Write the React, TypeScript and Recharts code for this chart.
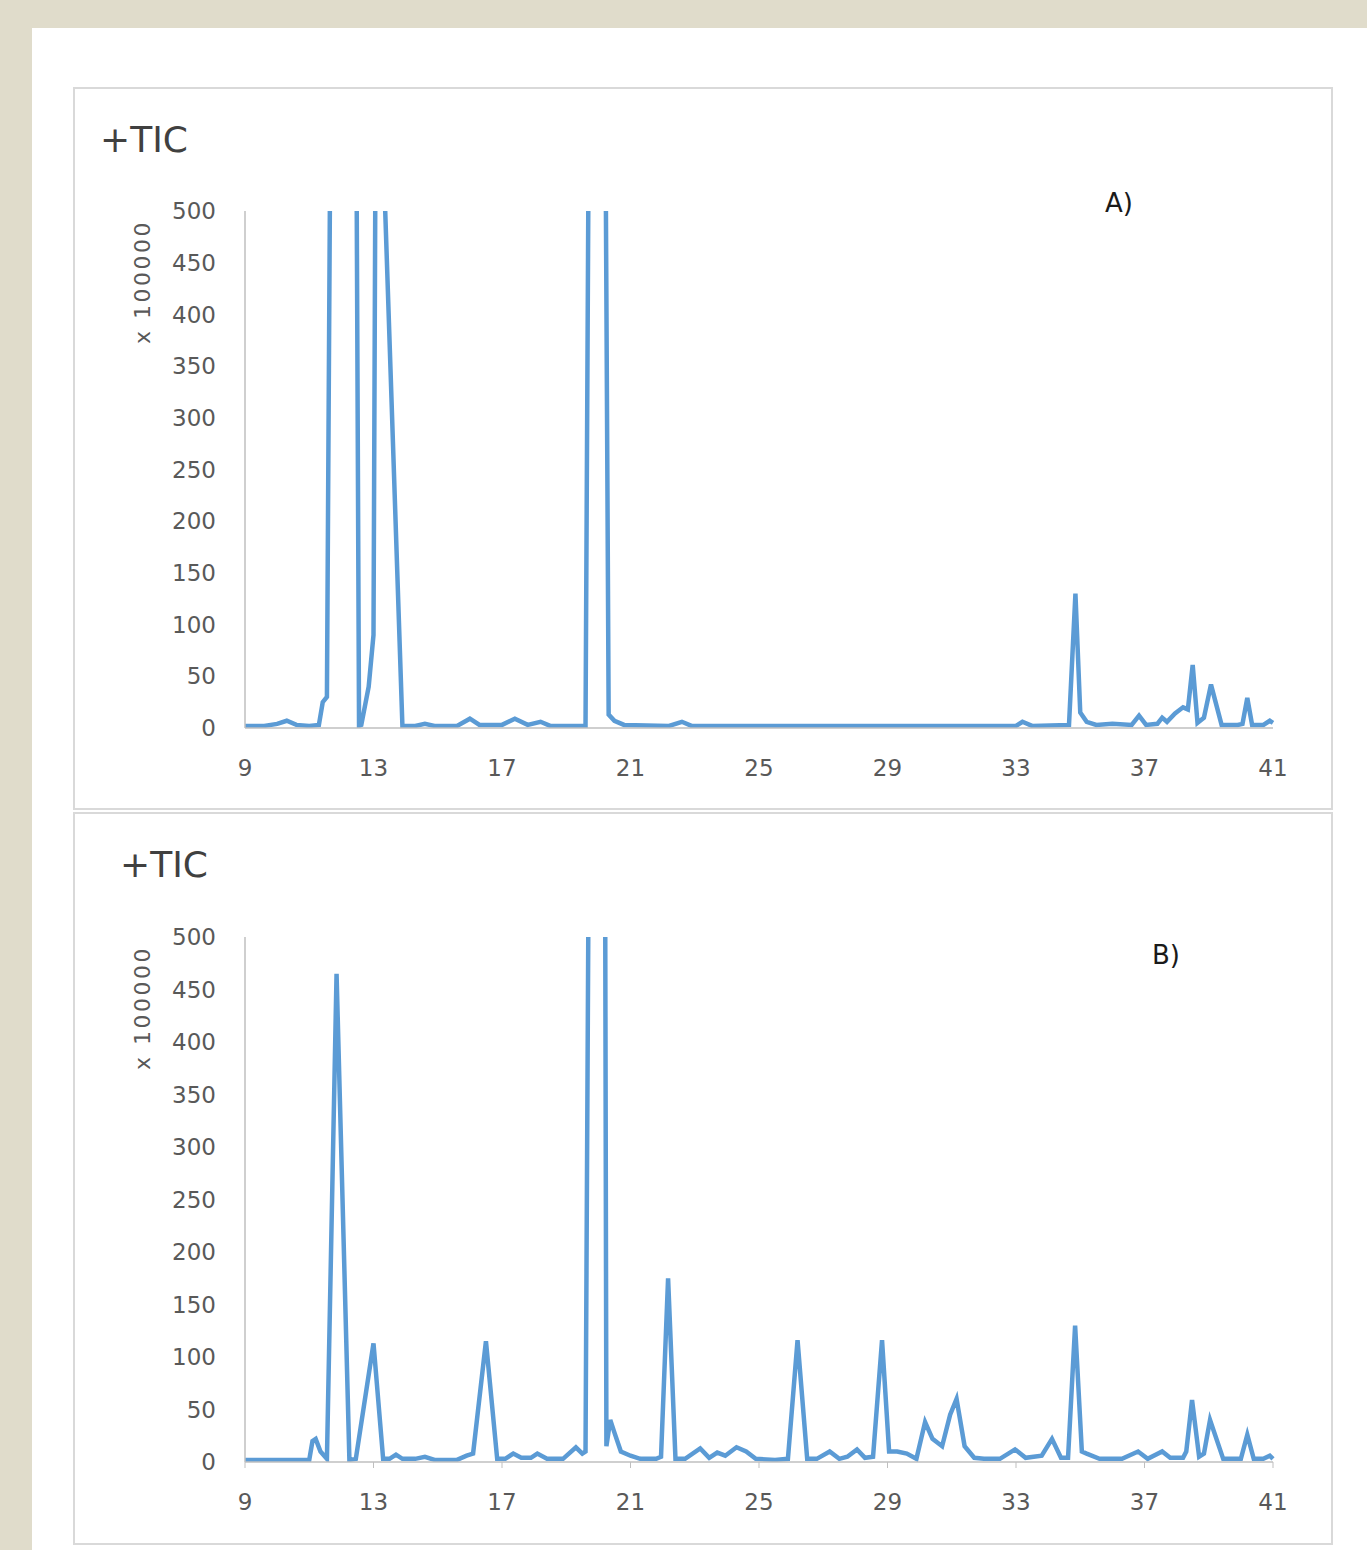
import { LineChart, Line, XAxis, YAxis } from "recharts";

// retention time (min) and TIC (x 100000), panel A
const timeA = [
  9, 9.6, 10.0, 10.3, 10.6, 11.0, 11.3, 11.42, 11.55, 11.68, 12.45, 12.55, 12.62, 12.85, 13.0, 13.08,
  13.3, 13.9, 14.3, 14.6, 14.9, 15.6, 16.0, 16.3, 17.0, 17.4, 17.8, 18.2, 18.5, 19.6, 19.72, 20.2,
  20.32, 20.5, 20.8, 22.2, 22.6, 22.9, 28.0, 33.0, 33.2, 33.5, 34.65, 34.85, 35.0, 35.2, 35.5, 36.0,
  36.6, 36.83, 37.05, 37.4, 37.55, 37.7, 37.95, 38.2, 38.35, 38.5, 38.65, 38.85, 39.07, 39.4, 39.9,
  40.05, 40.2, 40.35, 40.7, 40.9, 41.0,
];
const ticA = [
  2, 2, 4, 7, 3, 2, 3, 25, 30, 700, 700, 2, 3, 40, 90, 700,
  560, 2, 2, 4, 2, 2, 9, 3, 3, 9, 3, 6, 2, 2, 700, 700,
  13, 7, 3, 2, 6, 2, 2, 2, 6, 2, 3, 130, 15, 6, 3, 4,
  3, 12, 3, 4, 10, 6, 14, 20, 18, 61, 5, 10, 42, 3, 3,
  4, 29, 3, 3, 7, 5,
];

// panel B
const timeB = [
  9, 11.0, 11.1, 11.2, 11.35, 11.55, 11.85, 12.25, 12.45, 13.0, 13.3, 13.5, 13.7, 13.9, 14.3, 14.6,
  14.9, 15.6, 15.9, 16.1, 16.5, 16.85, 17.1, 17.35, 17.6, 17.9, 18.1, 18.4, 18.9, 19.3, 19.5, 19.6,
  19.72, 20.2, 20.25, 20.37, 20.5, 20.7, 21.0, 21.3, 21.8, 21.95, 22.17, 22.4, 22.7, 23.17, 23.45,
  23.7, 23.95, 24.3, 24.6, 24.9, 25.5, 25.9, 26.2, 26.5, 26.8, 27.2, 27.5, 27.75, 28.05, 28.3, 28.55,
  28.83, 29.05, 29.3, 29.6, 29.9, 30.17, 30.4, 30.7, 30.95, 31.15, 31.4, 31.7, 32.0, 32.5, 32.97,
  33.3, 33.8, 34.12, 34.4, 34.62, 34.84, 35.05, 35.2, 35.6, 36.3, 36.8, 37.1, 37.55, 37.8, 38.2,
  38.3, 38.48, 38.7, 38.85, 39.04, 39.45, 39.8, 40.0, 40.2, 40.4, 40.7, 40.9, 41.0,
];
const ticB = [
  2, 2, 20, 22, 10, 3, 465, 2, 3, 113, 3, 3, 7, 3, 3, 5,
  2, 2, 6, 8, 115, 3, 3, 8, 4, 4, 8, 3, 3, 14, 8, 10,
  700, 700, 15, 40, 28, 10, 6, 3, 3, 5, 175, 3, 3, 13, 4,
  9, 6, 14, 10, 3, 2, 3, 116, 3, 3, 10, 3, 5, 12, 4, 5,
  116, 10, 10, 8, 3, 38, 22, 15, 45, 60, 15, 4, 3, 3, 12,
  4, 6, 22, 4, 4, 130, 10, 8, 3, 3, 10, 3, 10, 4, 4,
  10, 59, 5, 8, 40, 3, 3, 3, 26, 3, 3, 6, 3,
];

const xTicks = [9, 13, 17, 21, 25, 29, 33, 37, 41];
const yTicks = [0, 50, 100, 150, 200, 250, 300, 350, 400, 450, 500];

const lineColor = "#5b9bd5";
const textColor = "#595959";
const font = "DejaVu Sans";

function TicChart(props: any) {
  const { times, values, top, height, marginTop, plotHeight, tag, tagLeft, tagTop, ticLeft, tickLines } = props;
  const data = times.map((t: number, i: number) => ({ t, v: values[i] }));
  const tickStyle = { fontFamily: font, fontSize: 23, fill: textColor };
  return (
    <>
      <div
        style={{
          position: "absolute",
          left: 73,
          top,
          width: 1256,
          height: height - 4,
          border: "2px solid #d9d9d9",
        }}
      />
      <div style={{ position: "absolute", left: 73, top }}>
        <LineChart
          width={1260}
          height={height}
          data={data}
          margin={{ top: marginTop, right: 60, left: 112, bottom: height - marginTop - plotHeight - 50 }}
        >
          <XAxis
            dataKey="t"
            type="number"
            domain={[9, 41]}
            ticks={xTicks}
            height={50}
            tickSize={6}
            tickMargin={26}
            tickLine={tickLines ? { stroke: "#bfbfbf" } : false}
            axisLine={{ stroke: "#bfbfbf", strokeWidth: 1.5 }}
            tick={tickStyle}
          />
          <YAxis
            type="number"
            domain={[0, 500]}
            ticks={yTicks}
            allowDataOverflow
            width={60}
            tickSize={0}
            tickMargin={29}
            tickLine={false}
            axisLine={{ stroke: "#bfbfbf", strokeWidth: 1.5 }}
            tick={tickStyle}
          />
          <Line
            type="linear"
            dataKey="v"
            stroke={lineColor}
            strokeWidth={4.5}
            dot={false}
            isAnimationActive={false}
          />
        </LineChart>
      </div>
      <div
        style={{
          position: "absolute",
          left: 73,
          top: top + marginTop + 56,
          width: 140,
          height: 30,
          lineHeight: "30px",
          textAlign: "center",
          fontFamily: font,
          fontSize: 22,
          letterSpacing: 2.5,
          color: textColor,
          transform: "rotate(-90deg)",
        }}
      >
        x 100000
      </div>
      <div
        style={{
          position: "absolute",
          left: ticLeft,
          top: top + 35,
          fontFamily: font,
          fontSize: 36,
          lineHeight: "36px",
          color: "#404040",
          whiteSpace: "nowrap",
        }}
      >
        +TIC
      </div>
      <div
        style={{
          position: "absolute",
          left: tagLeft,
          top: tagTop,
          fontFamily: font,
          fontSize: 26,
          lineHeight: "26px",
          color: "#1a1a1a",
          whiteSpace: "nowrap",
        }}
      >
        {tag}
      </div>
    </>
  );
}

export default function App() {
  return (
    <div
      style={{
        position: "absolute",
        left: 0,
        top: 0,
        width: 1367,
        height: 1550,
        background: "#e0dccb",
        overflow: "hidden",
      }}
    >
      <div style={{ position: "absolute", left: 32, top: 28, width: 1335, height: 1522, background: "#ffffff" }} />
      <TicChart
        times={timeA}
        values={ticA}
        top={87}
        height={723}
        marginTop={124}
        plotHeight={517}
        tag="A)"
        tagLeft={1105}
        tagTop={190}
        ticLeft={100}
        tickLines={false}
      />
      <TicChart
        times={timeB}
        values={ticB}
        top={812}
        height={733}
        marginTop={125}
        plotHeight={525}
        tag="B)"
        tagLeft={1152}
        tagTop={942}
        ticLeft={120}
        tickLines={true}
      />
    </div>
  );
}
